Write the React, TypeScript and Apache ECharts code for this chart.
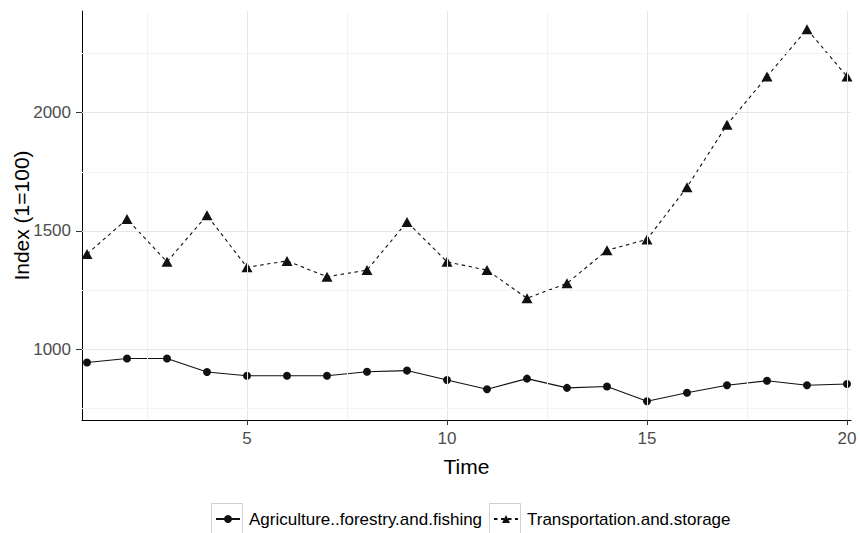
import React, { useEffect, useRef } from "react";
import * as echarts from "echarts";

const timePoints = [1, 2, 3, 4, 5, 6, 7, 8, 9, 10, 11, 12, 13, 14, 15, 16, 17, 18, 19, 20];
const agriculture = [943, 960, 960, 903, 887, 887, 887, 904, 909, 869, 830, 875, 836, 842, 779, 815, 847, 866, 847, 852];
const transportation = [1402, 1550, 1369, 1566, 1346, 1373, 1306, 1334, 1538, 1369, 1334, 1215, 1278, 1418, 1464, 1685, 1949, 2153, 2353, 2153];
const xTicks = [5, 10, 15, 20];
const xMinorGrid = [2.5, 7.5, 12.5, 17.5];
const yTicks = [1000, 1500, 2000];
const yMinorGrid = [750, 1250, 1750, 2250];
const seriesNames = ["Agriculture..forestry.and.fishing", "Transportation.and.storage"];

const FONT = "Liberation Sans, Arial, Helvetica, sans-serif";

export default function App() {
  const ref = useRef<HTMLDivElement>(null);
  useEffect(() => {
    if (!ref.current) return;
    const chart = echarts.init(ref.current, null, { renderer: "svg" });
    const majorStyle = { color: "#e6e6e6", width: 1, type: "solid" };
    const minorStyle = { color: "#f3f3f3", width: 1, type: "solid" };
    const gridLines = [
      ...xTicks.map((v) => ({ xAxis: v, lineStyle: majorStyle })),
      ...xMinorGrid.map((v) => ({ xAxis: v, lineStyle: minorStyle })),
      ...yTicks.map((v) => ({ yAxis: v, lineStyle: majorStyle })),
      ...yMinorGrid.map((v) => ({ yAxis: v, lineStyle: minorStyle })),
    ];
    chart.setOption({
      animation: false,
      backgroundColor: "#ffffff",
      textStyle: { fontFamily: FONT },
      grid: { left: 82, right: 9, top: 11, bottom: 113, containLabel: false, outerBoundsMode: "none" },
      xAxis: {
        type: "value",
        min: 0.875,
        max: 20.1,
        name: "Time",
        nameLocation: "middle",
        nameGap: 36,
        nameMoveOverlap: false,
        nameTextStyle: { fontSize: 21, color: "#000000", fontFamily: FONT },
        splitLine: { show: false },
        axisLine: { show: true, onZero: false, lineStyle: { color: "#000000", width: 1 } },
        axisTick: { show: true, length: 5, customValues: xTicks, lineStyle: { color: "#333333", width: 1 } },
        axisLabel: { customValues: xTicks, margin: 10, fontSize: 17, color: "#4d4d4d", fontFamily: FONT, formatter: (v: number) => String(v) },
      },
      yAxis: {
        type: "value",
        min: 700,
        max: 2430,
        name: "Index (1=100)",
        nameLocation: "middle",
        nameGap: 50,
        nameMoveOverlap: false,
        nameRotate: 90,
        nameTextStyle: { fontSize: 21, color: "#000000", fontFamily: FONT },
        splitLine: { show: false },
        axisLine: { show: true, onZero: false, lineStyle: { color: "#000000", width: 1 } },
        axisTick: { show: true, length: 6, customValues: yTicks, lineStyle: { color: "#333333", width: 1 } },
        axisLabel: { customValues: yTicks, margin: 11, fontSize: 17, color: "#4d4d4d", fontFamily: FONT, formatter: (v: number) => String(v) },
      },
      legend: [
        {
          data: [seriesNames[0]],
          left: 215,
          top: 509,
          padding: 0,
          itemWidth: 24,
          itemHeight: 10,
          textStyle: { fontSize: 17, color: "#000000", fontFamily: FONT, lineHeight: 20, padding: [0, 0, 0, 4] },
        },
        {
          data: [seriesNames[1]],
          left: 493,
          top: 509,
          padding: 0,
          itemWidth: 24,
          itemHeight: 10,
          textStyle: { fontSize: 17, color: "#000000", fontFamily: FONT, lineHeight: 20, padding: [0, 0, 0, 4] },
        },
      ],
      graphic: [
        { type: "rect", shape: { x: 211.5, y: 503.5, width: 31, height: 33 }, style: { fill: "none", stroke: "#d0d0d0", lineWidth: 1 }, z: 0 },
        { type: "rect", shape: { x: 489.5, y: 503.5, width: 31, height: 33 }, style: { fill: "none", stroke: "#d0d0d0", lineWidth: 1 }, z: 0 },
      ],
      series: [
        {
          name: "grid",
          type: "line",
          data: [],
          z: 0,
          silent: true,
          markLine: { silent: true, symbol: "none", label: { show: false }, animation: false, data: gridLines },
        },
        {
          name: seriesNames[0],
          type: "line",
          z: 3,
          data: timePoints.map((t, i) => [t, agriculture[i]]),
          symbol: "circle",
          symbolSize: 8,
          itemStyle: { color: "#111111" },
          lineStyle: { color: "#111111", width: 1.1, type: "solid" },
        },
        {
          name: seriesNames[1],
          type: "line",
          z: 3,
          data: timePoints.map((t, i) => [t, transportation[i]]),
          symbol: "triangle",
          symbolSize: [11, 10],
          itemStyle: { color: "#111111" },
          lineStyle: { color: "#111111", width: 1.1, type: [3.5, 3.5] },
        },
      ],
    });
    return () => chart.dispose();
  }, []);
  return <div ref={ref} style={{ width: 860, height: 533, position: "absolute", left: 0, top: 0 }} />;
}
